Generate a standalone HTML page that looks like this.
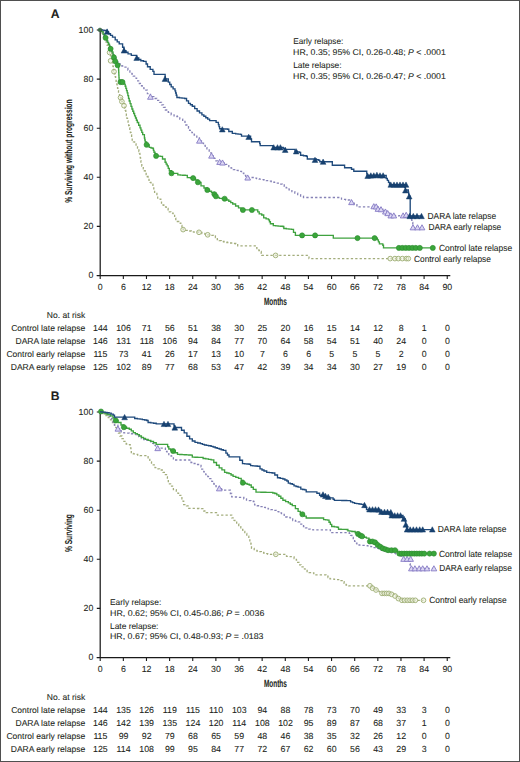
<!DOCTYPE html>
<html><head><meta charset="utf-8"><style>
html,body{margin:0;padding:0;background:#fff;}
body{width:520px;height:762px;overflow:hidden;}
svg{display:block;}
#w{width:520px;height:762px;}
text{font-family:"Liberation Sans", sans-serif;fill:#231f20;stroke:#231f20;stroke-width:0.08px;text-rendering:geometricPrecision;}
</style></head><body>
<div id="w"><svg width="520" height="762" viewBox="0 0 520 762">
<rect x="0.5" y="0.5" width="519" height="761" fill="#fff" stroke="#4f4f4f" stroke-width="1"/>
<path d="M100.2 30V276.1 M96.8 275.5H450.3" stroke="#1a1a1a" stroke-width="1.25" fill="none"/>
<path d="M96.8 275.5H100.2M96.8 226.4H100.2M96.8 177.3H100.2M96.8 128.2H100.2M96.8 79.1H100.2M96.8 30H100.2M100.2 275.5V278.9M123.34 275.5V278.9M146.47 275.5V278.9M169.61 275.5V278.9M192.74 275.5V278.9M215.88 275.5V278.9M239.02 275.5V278.9M262.15 275.5V278.9M285.29 275.5V278.9M308.42 275.5V278.9M331.56 275.5V278.9M354.7 275.5V278.9M377.83 275.5V278.9M400.97 275.5V278.9M424.1 275.5V278.9M447.24 275.5V278.9" stroke="#1a1a1a" stroke-width="1.1" fill="none"/>
<text x="93.3" y="278.4" font-size="8.8" text-anchor="end">0</text>
<text x="93.3" y="229.3" font-size="8.8" text-anchor="end">20</text>
<text x="93.3" y="180.2" font-size="8.8" text-anchor="end">40</text>
<text x="93.3" y="131.1" font-size="8.8" text-anchor="end">60</text>
<text x="93.3" y="82" font-size="8.8" text-anchor="end">80</text>
<text x="93.3" y="32.9" font-size="8.8" text-anchor="end">100</text>
<text x="100.3" y="289.9" font-size="8.8" text-anchor="middle">0</text>
<text x="123.44" y="289.9" font-size="8.8" text-anchor="middle">6</text>
<text x="146.57" y="289.9" font-size="8.8" text-anchor="middle">12</text>
<text x="169.71" y="289.9" font-size="8.8" text-anchor="middle">18</text>
<text x="192.84" y="289.9" font-size="8.8" text-anchor="middle">24</text>
<text x="215.98" y="289.9" font-size="8.8" text-anchor="middle">30</text>
<text x="239.12" y="289.9" font-size="8.8" text-anchor="middle">36</text>
<text x="262.25" y="289.9" font-size="8.8" text-anchor="middle">42</text>
<text x="285.39" y="289.9" font-size="8.8" text-anchor="middle">48</text>
<text x="308.52" y="289.9" font-size="8.8" text-anchor="middle">54</text>
<text x="331.66" y="289.9" font-size="8.8" text-anchor="middle">60</text>
<text x="354.8" y="289.9" font-size="8.8" text-anchor="middle">66</text>
<text x="377.93" y="289.9" font-size="8.8" text-anchor="middle">72</text>
<text x="401.07" y="289.9" font-size="8.8" text-anchor="middle">78</text>
<text x="424.2" y="289.9" font-size="8.8" text-anchor="middle">84</text>
<text x="447.34" y="289.9" font-size="8.8" text-anchor="middle">90</text>
<text x="275.4" y="305" font-size="10.6" text-anchor="middle" textLength="23" lengthAdjust="spacingAndGlyphs" font-weight="bold">Months</text>
<text transform="translate(72.2 151.1) rotate(-90)" font-size="10" font-weight="bold" text-anchor="middle" textLength="103.4" lengthAdjust="spacingAndGlyphs">% Surviving without progression</text>
<text x="50.7" y="17.8" font-size="12.2" font-weight="bold">A</text>
<text x="293.2" y="44.4" font-size="8.4" textLength="50.1" lengthAdjust="spacingAndGlyphs">Early relapse:</text>
<text x="293.1" y="54.6" font-size="8.4" textLength="152.7" lengthAdjust="spacingAndGlyphs">HR, 0.35; 95% CI, 0.26-0.48; <tspan font-style="italic">P</tspan> &lt; .0001</text>
<text x="293.2" y="67.9" font-size="8.4">Late relapse:</text>
<text x="293.1" y="78.5" font-size="8.4" textLength="152.7" lengthAdjust="spacingAndGlyphs">HR, 0.35; 95% CI, 0.26-0.47; <tspan font-style="italic">P</tspan> &lt; .0001</text>
<path d="M100 29.8H102V33H103V35H104V37H105V39.5H106V42H107V45H108V48H108.9V50.5H109.8V53H110.5V55.8H111.2V58.6H111.85V61.3H112.5V64H112.93V66.33H113.37V68.67H113.8V71H114.45V73.85H115.1V76.7H115.6V79.08H116.1V81.45H116.6V83.83H117.1V86.2H117.57V88.43H118.03V90.67H118.5V92.9H119.5V95.25H120.5V97.6H121.15V99.6H121.8V101.6H123.15V103.65H124.5V105.7H124.85V108.05H125.2V110.4H125.78V113.05H126.35V115.7H126.92V118.35H127.5V121H128.07V123.25H128.65V125.5H129.23V127.75H129.8V130H130.4V132.5H131V135H131.6V137.5H132.2V140H133.4V141.9H134.6V143.8H136.05V146H137.5V148.2H138.9V151.5H139.4V153.45H139.9V155.4H140.23V157.97H140.57V160.53H140.9V163.1H141.8V166H143.3V168.8H144.25V170.75H145.2V172.7H146.15V174.6H147.1V176.5H148.05V178.45H149V180.4H150V182.3H151V184.2H152.9V187.1H153.8V190H154.6V193.5H156.9V196.2H157.7V199.2H160.8V201.5H161.5V205H163.8V206.9H166.2V208.5H168.1V211.9H170.8V213.1H173.1V215.4H174.6V218.1H175.8V221.5H178.8V223.1H180.8V225.4H181.95V227.5H183.1V229.6H185.8V230.3H188.5V231H191.3V231.9H193.87V232.03H196.43V232.17H199V232.3H201.9V233.5H204.8V234.15H207.7V234.8H210.6V235.3H213.5V235.8H215.4V237.7H217.3V239.6H219.25V240.55H221.2V241.5H224.05V242H226.9V242.5H229.8V243H232.7V243.5H235.8V243.8H237.7V245.8H255H255.95V247.7H256.9V249.6H258.85V250.55H260.8V251.5H261.25V253.45H261.7V255.4H308.2H309V258.6H408.5" stroke="#a3ad7c" stroke-width="1.3" fill="none" stroke-dasharray="2.3 2.1"/>
<circle cx="109.6" cy="52.5" r="2.35" fill="rgba(236,241,220,0.55)" stroke="#a0b078" stroke-width="0.95"/>
<circle cx="110.6" cy="60.8" r="2.35" fill="rgba(236,241,220,0.55)" stroke="#a0b078" stroke-width="0.95"/>
<circle cx="114" cy="71.6" r="2.35" fill="rgba(236,241,220,0.55)" stroke="#a0b078" stroke-width="0.95"/>
<circle cx="120.5" cy="97.6" r="2.35" fill="rgba(236,241,220,0.55)" stroke="#a0b078" stroke-width="0.95"/>
<circle cx="121.9" cy="101.6" r="2.35" fill="rgba(236,241,220,0.55)" stroke="#a0b078" stroke-width="0.95"/>
<circle cx="124" cy="105.7" r="2.35" fill="rgba(236,241,220,0.55)" stroke="#a0b078" stroke-width="0.95"/>
<circle cx="183.1" cy="229.6" r="2.35" fill="rgba(236,241,220,0.55)" stroke="#a0b078" stroke-width="0.95"/>
<circle cx="199" cy="232.3" r="2.35" fill="rgba(236,241,220,0.55)" stroke="#a0b078" stroke-width="0.95"/>
<circle cx="207.7" cy="234.8" r="2.35" fill="rgba(236,241,220,0.55)" stroke="#a0b078" stroke-width="0.95"/>
<circle cx="275.6" cy="255.4" r="2.35" fill="rgba(236,241,220,0.55)" stroke="#a0b078" stroke-width="0.95"/>
<circle cx="390.2" cy="258.6" r="2.35" fill="rgba(236,241,220,0.55)" stroke="#a0b078" stroke-width="0.95"/>
<circle cx="394.9" cy="258.6" r="2.35" fill="rgba(236,241,220,0.55)" stroke="#a0b078" stroke-width="0.95"/>
<circle cx="398.3" cy="258.6" r="2.35" fill="rgba(236,241,220,0.55)" stroke="#a0b078" stroke-width="0.95"/>
<circle cx="402.3" cy="258.6" r="2.35" fill="rgba(236,241,220,0.55)" stroke="#a0b078" stroke-width="0.95"/>
<circle cx="406.3" cy="258.6" r="2.35" fill="rgba(236,241,220,0.55)" stroke="#a0b078" stroke-width="0.95"/>
<circle cx="408.3" cy="258.6" r="2.35" fill="rgba(236,241,220,0.55)" stroke="#a0b078" stroke-width="0.95"/>
<path d="M100 29.8H102V32H103V34H104V36H105.25V38.5H106.5V41H107.75V43.5H109V46H110.25V48.5H111.5V51H112.75V53.5H114V56H115V58H116V60H117.3V62H118.6V64H121.9V66H123.95V67.05H126V68.1H127.9V70H129.9V72H131.9V74H133.25V76.05H134.6V78.1H136.6V80.8H138.6V83.5H140.4V85.73H142.2V87.97H144V90.2H147.4V93.6H150.5V96.6H153.8V98.5H156.7V100.4H159.6V102.3H161.53V104.87H163.47V107.43H165.4V110H168.3V112.4H171.2V114.8H174.05V115.75H176.9V116.7H179.8V119.1H182.7V121.5H185V125H188.5V128.3H189.6V130.4H191.9V132.7H194.2V135H196.8V137.9H199.4V140.8H201.45V143.1H203.5V145.4H205.2V147.7H206.9V150H209.2V152.9H211.5V155.8H213.25V158.35H215V160.9H217.3V161.5H219.6V162.1H222.5V162.7H225.4V164.4H228.8V166.7H231.1V168.15H233.4V169.6H235.75V170.45H238.1V171.3H241.5V173.1H243.8V175.4H245.75V176.45H247.7V177.5H251.5H254.07V178.07H256.63V178.63H259.2V179.2H261.6V179.7H264V180.2H266.4V180.7H268.8V181.2H271.37V181.83H273.93V182.47H276.5V183.1H279.4V184.05H282.3V185H284.25V186.45H286.2V187.9H289.05V189.8H291.9V191.7H294.8V193.15H297.7V194.6H300.6V196.05H303.5V197.5H340H341.5V199.2H343.57V199.47H345.63V199.73H347.7V200H349.6V201.15H351.5V202.3H354.2V204.6H356.9V206.9H372H376.5H378.5V208.8H381V209.2H382.8V210.35H384.6V211.5H386.9V213.1H390V215H392.3V215.27H394.6V215.53H396.9V215.8H399.17V215.7H401.45V215.6H403.73V215.5H406V215.4H408V215.7H410V216H410.87V218.17H411.73V220.33H412.6V222.5H412.8V224.9H413V227.3H422" stroke="#8682b6" stroke-width="1.3" fill="none" stroke-dasharray="2.3 2.1"/>
<path d="M150.4 94.15L147.55 99.25L153.25 99.25Z" fill="#dcd7f3" stroke="#8479c4" stroke-width="0.9"/>
<path d="M199.4 138.05L196.55 143.15L202.25 143.15Z" fill="#dcd7f3" stroke="#8479c4" stroke-width="0.9"/>
<path d="M211.5 153.05L208.65 158.15L214.35 158.15Z" fill="#dcd7f3" stroke="#8479c4" stroke-width="0.9"/>
<path d="M219.6 159.35L216.75 164.45L222.45 164.45Z" fill="#dcd7f3" stroke="#8479c4" stroke-width="0.9"/>
<path d="M222.5 159.95L219.65 165.05L225.35 165.05Z" fill="#dcd7f3" stroke="#8479c4" stroke-width="0.9"/>
<path d="M247.7 174.95L244.85 180.05L250.55 180.05Z" fill="#dcd7f3" stroke="#8479c4" stroke-width="0.9"/>
<path d="M351.5 199.55L348.65 204.65L354.35 204.65Z" fill="#dcd7f3" stroke="#8479c4" stroke-width="0.9"/>
<path d="M373.8 203.65L370.95 208.75L376.65 208.75Z" fill="#dcd7f3" stroke="#8479c4" stroke-width="0.9"/>
<path d="M376.2 203.85L373.35 208.95L379.05 208.95Z" fill="#dcd7f3" stroke="#8479c4" stroke-width="0.9"/>
<path d="M378 206.25L375.15 211.35L380.85 211.35Z" fill="#dcd7f3" stroke="#8479c4" stroke-width="0.9"/>
<path d="M381 206.65L378.15 211.75L383.85 211.75Z" fill="#dcd7f3" stroke="#8479c4" stroke-width="0.9"/>
<path d="M385.4 208.95L382.55 214.05L388.25 214.05Z" fill="#dcd7f3" stroke="#8479c4" stroke-width="0.9"/>
<path d="M387.7 210.55L384.85 215.65L390.55 215.65Z" fill="#dcd7f3" stroke="#8479c4" stroke-width="0.9"/>
<path d="M390.8 212.85L387.95 217.95L393.65 217.95Z" fill="#dcd7f3" stroke="#8479c4" stroke-width="0.9"/>
<path d="M393.8 212.85L390.95 217.95L396.65 217.95Z" fill="#dcd7f3" stroke="#8479c4" stroke-width="0.9"/>
<path d="M403.1 212.85L400.25 217.95L405.95 217.95Z" fill="#dcd7f3" stroke="#8479c4" stroke-width="0.9"/>
<path d="M406.2 212.25L403.35 217.35L409.05 217.35Z" fill="#dcd7f3" stroke="#8479c4" stroke-width="0.9"/>
<path d="M413 224.75L410.15 229.85L415.85 229.85Z" fill="#dcd7f3" stroke="#8479c4" stroke-width="0.9"/>
<path d="M417.5 224.75L414.65 229.85L420.35 229.85Z" fill="#dcd7f3" stroke="#8479c4" stroke-width="0.9"/>
<path d="M422 224.75L419.15 229.85L424.85 229.85Z" fill="#dcd7f3" stroke="#8479c4" stroke-width="0.9"/>
<path d="M100 29.8H101.5V31.5H103.1V34.4H104.9V37.5H106.5V40.5H107.5V42.5H108.5V44.5H109.55V46.65H110.6V48.8H112V52H112.95V54.7H113.9V57.4H114.55V59.35H115.2V61.3H117V64H118.3V66.7H118.6V70H118.72V72.53H118.85V75.05H118.97V77.57H119.1V80.1H122.5V82.1H123.85V84.15H125.2V86.2H125.87V88.43H126.53V90.67H127.2V92.9H127.87V95.6H128.53V98.3H129.2V101H130.1V103.67H131V106.33H131.9V109H132.8V111.27H133.7V113.53H134.6V115.8H135.5V118.03H136.4V120.27H137.3V122.5H138.65V125.2H140V127.9H140.9V130.13H141.8V132.37H142.7V134.6H144.4V138H144.8V140H145.2V142H146.6V144.8H149.2V147.4H151.05V147.95H152.9V148.5H153.45V150.35H154V152.2H155.05V154.05H156.1V155.9H158.2V156.15H160.3V156.4H162.5V159H165.1V162.2H166.15V164.05H167.2V165.9H168.25V168.3H169.3V170.7H171.5V173.3H175.7H177.8V174.9H180.27V175.07H182.73V175.23H185.2V175.4H187.3V177.6H190.2V177.85H193.1V178.1H195.5V180H197.9V182.3H201V185.8H204V188H207.3V190H209.4V191.25H211.5V192.5H214.4V193.8H215.4V196.3H217.3V197.3H219.2V198.3H221.9V198.5H224.6V198.7H226.7V199.95H228.8V201.2H230.75V202.6H232.7V204H235.6V205.95H238.5V207.9H241V209.9H256.3H257.75V211.85H259.2V213.8H261.7V215H263.7V217.9H266.1V218.85H268.5V219.8H269.45V221.75H270.4V223.7H273.3V225.6H275.7V225.82H278.1V226.05H280.5V226.28H282.9V226.5H283.8V228.5H286.37V228.8H288.93V229.1H291.5V229.4H293.5V232.3H295.4V235.4H332.4H333.3V238.1H374.6H377.4V239.8H378.4V241.8H379.4V243.8H382.8V245.2H383.5V247.9H432.8" stroke="#3fa23f" stroke-width="1.35" fill="none"/>
<circle cx="105.6" cy="37.8" r="2.55" fill="#3aa63a" stroke="#2e8a30" stroke-width="0.6"/>
<circle cx="110.6" cy="48.8" r="2.55" fill="#3aa63a" stroke="#2e8a30" stroke-width="0.6"/>
<circle cx="113.9" cy="57.4" r="2.55" fill="#3aa63a" stroke="#2e8a30" stroke-width="0.6"/>
<circle cx="115.3" cy="61.3" r="2.55" fill="#3aa63a" stroke="#2e8a30" stroke-width="0.6"/>
<circle cx="117.6" cy="65.2" r="2.55" fill="#3aa63a" stroke="#2e8a30" stroke-width="0.6"/>
<circle cx="120.5" cy="82.1" r="2.55" fill="#3aa63a" stroke="#2e8a30" stroke-width="0.6"/>
<circle cx="122.5" cy="82.1" r="2.55" fill="#3aa63a" stroke="#2e8a30" stroke-width="0.6"/>
<circle cx="146.6" cy="144.8" r="2.55" fill="#3aa63a" stroke="#2e8a30" stroke-width="0.6"/>
<circle cx="156.1" cy="155.9" r="2.55" fill="#3aa63a" stroke="#2e8a30" stroke-width="0.6"/>
<circle cx="171.5" cy="173.3" r="2.55" fill="#3aa63a" stroke="#2e8a30" stroke-width="0.6"/>
<circle cx="193.1" cy="178.1" r="2.55" fill="#3aa63a" stroke="#2e8a30" stroke-width="0.6"/>
<circle cx="197.9" cy="182.3" r="2.55" fill="#3aa63a" stroke="#2e8a30" stroke-width="0.6"/>
<circle cx="207.3" cy="190" r="2.55" fill="#3aa63a" stroke="#2e8a30" stroke-width="0.6"/>
<circle cx="214.4" cy="194.2" r="2.55" fill="#3aa63a" stroke="#2e8a30" stroke-width="0.6"/>
<circle cx="215.9" cy="196.3" r="2.55" fill="#3aa63a" stroke="#2e8a30" stroke-width="0.6"/>
<circle cx="224.6" cy="198.7" r="2.55" fill="#3aa63a" stroke="#2e8a30" stroke-width="0.6"/>
<circle cx="242.9" cy="210" r="2.55" fill="#3aa63a" stroke="#2e8a30" stroke-width="0.6"/>
<circle cx="251.9" cy="210" r="2.55" fill="#3aa63a" stroke="#2e8a30" stroke-width="0.6"/>
<circle cx="302.1" cy="235.4" r="2.55" fill="#3aa63a" stroke="#2e8a30" stroke-width="0.6"/>
<circle cx="315.1" cy="235.4" r="2.55" fill="#3aa63a" stroke="#2e8a30" stroke-width="0.6"/>
<circle cx="357.5" cy="238.1" r="2.55" fill="#3aa63a" stroke="#2e8a30" stroke-width="0.6"/>
<circle cx="374.6" cy="238.1" r="2.55" fill="#3aa63a" stroke="#2e8a30" stroke-width="0.6"/>
<circle cx="398.9" cy="247.9" r="2.55" fill="#3aa63a" stroke="#2e8a30" stroke-width="0.6"/>
<circle cx="402.3" cy="247.9" r="2.55" fill="#3aa63a" stroke="#2e8a30" stroke-width="0.6"/>
<circle cx="405.7" cy="247.9" r="2.55" fill="#3aa63a" stroke="#2e8a30" stroke-width="0.6"/>
<circle cx="409" cy="247.9" r="2.55" fill="#3aa63a" stroke="#2e8a30" stroke-width="0.6"/>
<circle cx="412.4" cy="247.9" r="2.55" fill="#3aa63a" stroke="#2e8a30" stroke-width="0.6"/>
<circle cx="415.8" cy="247.9" r="2.55" fill="#3aa63a" stroke="#2e8a30" stroke-width="0.6"/>
<circle cx="419.8" cy="247.9" r="2.55" fill="#3aa63a" stroke="#2e8a30" stroke-width="0.6"/>
<circle cx="432.8" cy="247.9" r="2.55" fill="#3aa63a" stroke="#2e8a30" stroke-width="0.6"/>
<path d="M100 29.8H102V30.15H104V30.5H107V31.7H108.5V33.7H110.5V35.4H112.5V37.1H115.2V39.8H117.2V41.8H119.2V43.8H122.6V47.2H124V50.6H126V52.25H128V53.9H131.3V55.3H134H136.7V58H138.75V59.35H140.8V60.7H143.5V61.3H146.1V64H147.5V66.7H150.2V69.4H152.9V71.4H154V74.4H165H165.15V76.6H165.3V78.8H168.3V82.1H169.75V84.5H171.2V86.9H173.1V88.85H175V90.8H175.63V93.03H176.27V95.27H176.9V97.5H179.47V97.83H182.03V98.17H184.6V98.5H186.55V100.9H188.5V103.3H190.4V104.75H192.3V106.2H194.7V108.6H197.1V111H199.5V112.9H201.9V114.8H203.85V116.25H205.8V117.7H207.7V119.15H209.6V120.6H212.7H216.1V122.3H218.4V124.6H219V126.65H219.6V128.7H222.3V128.87H225V129.03H227.7V129.2H228.8V131.5H232.3V133.3H235.7V133.8H238.05V134.1H240.4V134.4H241.5V136.1H247.7H250.6V138.8H251.5V141.7H259.2H259.7V143.65H260.2V145.6H271.7H273V147.3H282H283.3V148.5H285.2V149.4H293.8H295V151.3H297.3V151.8H299.6V152.3H300.6V155.2H303.45V155.7H306.3V156.2H307.3V159H314H316.4V159.7H318.8V160.4H319.8V161.7H330.8H332.3V165.2H343.8H344.6V167.7H350H351.5V169.2H353.8V171.2H366.5H366.75V173.3H367V175.4H384H386.2V178.5H387.35V180.4H388.5V182.3H389.5V184.6H404H404.7V187.3H405.4V190H408H408.33V192.07H408.67V194.13H409V196.2H410.2V216H421.5" stroke="#1f4a7c" stroke-width="1.35" fill="none"/>
<path d="M107.1 28.85L104.25 34.15L109.95 34.15Z" fill="#17406f" stroke="#17406f" stroke-width="0.5"/>
<path d="M124 47.75L121.15 53.05L126.85 53.05Z" fill="#17406f" stroke="#17406f" stroke-width="0.5"/>
<path d="M136.7 55.15L133.85 60.45L139.55 60.45Z" fill="#17406f" stroke="#17406f" stroke-width="0.5"/>
<path d="M165 76.15L162.15 81.45L167.85 81.45Z" fill="#17406f" stroke="#17406f" stroke-width="0.5"/>
<path d="M222.3 126.65L219.45 131.95L225.15 131.95Z" fill="#17406f" stroke="#17406f" stroke-width="0.5"/>
<path d="M248.7 134.15L245.85 139.45L251.55 139.45Z" fill="#17406f" stroke="#17406f" stroke-width="0.5"/>
<path d="M273.7 144.65L270.85 149.95L276.55 149.95Z" fill="#17406f" stroke="#17406f" stroke-width="0.5"/>
<path d="M277.5 144.65L274.65 149.95L280.35 149.95Z" fill="#17406f" stroke="#17406f" stroke-width="0.5"/>
<path d="M280.4 144.65L277.55 149.95L283.25 149.95Z" fill="#17406f" stroke="#17406f" stroke-width="0.5"/>
<path d="M285.2 147.15L282.35 152.45L288.05 152.45Z" fill="#17406f" stroke="#17406f" stroke-width="0.5"/>
<path d="M296.2 148.65L293.35 153.95L299.05 153.95Z" fill="#17406f" stroke="#17406f" stroke-width="0.5"/>
<path d="M315 157.15L312.15 162.45L317.85 162.45Z" fill="#17406f" stroke="#17406f" stroke-width="0.5"/>
<path d="M323.1 159.05L320.25 164.35L325.95 164.35Z" fill="#17406f" stroke="#17406f" stroke-width="0.5"/>
<path d="M367.7 173.15L364.85 178.45L370.55 178.45Z" fill="#17406f" stroke="#17406f" stroke-width="0.5"/>
<path d="M370.8 172.75L367.95 178.05L373.65 178.05Z" fill="#17406f" stroke="#17406f" stroke-width="0.5"/>
<path d="M373.8 172.75L370.95 178.05L376.65 178.05Z" fill="#17406f" stroke="#17406f" stroke-width="0.5"/>
<path d="M376.9 172.15L374.05 177.45L379.75 177.45Z" fill="#17406f" stroke="#17406f" stroke-width="0.5"/>
<path d="M380 172.75L377.15 178.05L382.85 178.05Z" fill="#17406f" stroke="#17406f" stroke-width="0.5"/>
<path d="M383.1 172.75L380.25 178.05L385.95 178.05Z" fill="#17406f" stroke="#17406f" stroke-width="0.5"/>
<path d="M390.8 181.95L387.95 187.25L393.65 187.25Z" fill="#17406f" stroke="#17406f" stroke-width="0.5"/>
<path d="M394 181.95L391.15 187.25L396.85 187.25Z" fill="#17406f" stroke="#17406f" stroke-width="0.5"/>
<path d="M397 181.95L394.15 187.25L399.85 187.25Z" fill="#17406f" stroke="#17406f" stroke-width="0.5"/>
<path d="M400 181.95L397.15 187.25L402.85 187.25Z" fill="#17406f" stroke="#17406f" stroke-width="0.5"/>
<path d="M403 181.95L400.15 187.25L405.85 187.25Z" fill="#17406f" stroke="#17406f" stroke-width="0.5"/>
<path d="M406 181.95L403.15 187.25L408.85 187.25Z" fill="#17406f" stroke="#17406f" stroke-width="0.5"/>
<path d="M405.4 187.65L402.55 192.95L408.25 192.95Z" fill="#17406f" stroke="#17406f" stroke-width="0.5"/>
<path d="M409.2 193.65L406.35 198.95L412.05 198.95Z" fill="#17406f" stroke="#17406f" stroke-width="0.5"/>
<path d="M409.6 213.35L406.75 218.65L412.45 218.65Z" fill="#17406f" stroke="#17406f" stroke-width="0.5"/>
<path d="M413.3 213.35L410.45 218.65L416.15 218.65Z" fill="#17406f" stroke="#17406f" stroke-width="0.5"/>
<path d="M417 213.35L414.15 218.65L419.85 218.65Z" fill="#17406f" stroke="#17406f" stroke-width="0.5"/>
<path d="M421.5 213.35L418.65 218.65L424.35 218.65Z" fill="#17406f" stroke="#17406f" stroke-width="0.5"/>
<circle cx="100" cy="29.9" r="1.9" fill="#3c6e4a" stroke="#2f5a3c" stroke-width="0.5"/>
<text x="427.5" y="218.7" font-size="8.8" textLength="68.6" lengthAdjust="spacingAndGlyphs">DARA late relapse</text>
<text x="428.5" y="229.9" font-size="8.8" textLength="72.7" lengthAdjust="spacingAndGlyphs">DARA early relapse</text>
<text x="438.9" y="250.9" font-size="8.8" textLength="73.3" lengthAdjust="spacingAndGlyphs">Control late relapse</text>
<text x="414" y="261.8" font-size="8.8" textLength="76.9" lengthAdjust="spacingAndGlyphs">Control early relapse</text>
<text x="85.3" y="318" font-size="8.55" text-anchor="end">No. at risk</text>
<text x="85.3" y="331.1" font-size="8.55" text-anchor="end">Control late relapse</text>
<text x="100.4" y="331.1" font-size="8.8" text-anchor="middle">144</text>
<text x="123.54" y="331.1" font-size="8.8" text-anchor="middle">106</text>
<text x="146.67" y="331.1" font-size="8.8" text-anchor="middle">71</text>
<text x="169.81" y="331.1" font-size="8.8" text-anchor="middle">56</text>
<text x="192.94" y="331.1" font-size="8.8" text-anchor="middle">51</text>
<text x="216.08" y="331.1" font-size="8.8" text-anchor="middle">38</text>
<text x="239.22" y="331.1" font-size="8.8" text-anchor="middle">30</text>
<text x="262.35" y="331.1" font-size="8.8" text-anchor="middle">25</text>
<text x="285.49" y="331.1" font-size="8.8" text-anchor="middle">20</text>
<text x="308.62" y="331.1" font-size="8.8" text-anchor="middle">16</text>
<text x="331.76" y="331.1" font-size="8.8" text-anchor="middle">15</text>
<text x="354.9" y="331.1" font-size="8.8" text-anchor="middle">14</text>
<text x="378.03" y="331.1" font-size="8.8" text-anchor="middle">12</text>
<text x="401.17" y="331.1" font-size="8.8" text-anchor="middle">8</text>
<text x="424.3" y="331.1" font-size="8.8" text-anchor="middle">1</text>
<text x="447.44" y="331.1" font-size="8.8" text-anchor="middle">0</text>
<text x="85.3" y="344.2" font-size="8.55" text-anchor="end">DARA late relapse</text>
<text x="100.4" y="344.2" font-size="8.8" text-anchor="middle">146</text>
<text x="123.54" y="344.2" font-size="8.8" text-anchor="middle">131</text>
<text x="146.67" y="344.2" font-size="8.8" text-anchor="middle">118</text>
<text x="169.81" y="344.2" font-size="8.8" text-anchor="middle">106</text>
<text x="192.94" y="344.2" font-size="8.8" text-anchor="middle">94</text>
<text x="216.08" y="344.2" font-size="8.8" text-anchor="middle">84</text>
<text x="239.22" y="344.2" font-size="8.8" text-anchor="middle">77</text>
<text x="262.35" y="344.2" font-size="8.8" text-anchor="middle">70</text>
<text x="285.49" y="344.2" font-size="8.8" text-anchor="middle">64</text>
<text x="308.62" y="344.2" font-size="8.8" text-anchor="middle">58</text>
<text x="331.76" y="344.2" font-size="8.8" text-anchor="middle">54</text>
<text x="354.9" y="344.2" font-size="8.8" text-anchor="middle">51</text>
<text x="378.03" y="344.2" font-size="8.8" text-anchor="middle">40</text>
<text x="401.17" y="344.2" font-size="8.8" text-anchor="middle">24</text>
<text x="424.3" y="344.2" font-size="8.8" text-anchor="middle">0</text>
<text x="447.44" y="344.2" font-size="8.8" text-anchor="middle">0</text>
<text x="85.3" y="357" font-size="8.55" text-anchor="end">Control early relapse</text>
<text x="100.4" y="357" font-size="8.8" text-anchor="middle">115</text>
<text x="123.54" y="357" font-size="8.8" text-anchor="middle">73</text>
<text x="146.67" y="357" font-size="8.8" text-anchor="middle">41</text>
<text x="169.81" y="357" font-size="8.8" text-anchor="middle">26</text>
<text x="192.94" y="357" font-size="8.8" text-anchor="middle">17</text>
<text x="216.08" y="357" font-size="8.8" text-anchor="middle">13</text>
<text x="239.22" y="357" font-size="8.8" text-anchor="middle">10</text>
<text x="262.35" y="357" font-size="8.8" text-anchor="middle">7</text>
<text x="285.49" y="357" font-size="8.8" text-anchor="middle">6</text>
<text x="308.62" y="357" font-size="8.8" text-anchor="middle">6</text>
<text x="331.76" y="357" font-size="8.8" text-anchor="middle">5</text>
<text x="354.9" y="357" font-size="8.8" text-anchor="middle">5</text>
<text x="378.03" y="357" font-size="8.8" text-anchor="middle">5</text>
<text x="401.17" y="357" font-size="8.8" text-anchor="middle">2</text>
<text x="424.3" y="357" font-size="8.8" text-anchor="middle">0</text>
<text x="447.44" y="357" font-size="8.8" text-anchor="middle">0</text>
<text x="85.3" y="370.1" font-size="8.55" text-anchor="end">DARA early relapse</text>
<text x="100.4" y="370.1" font-size="8.8" text-anchor="middle">125</text>
<text x="123.54" y="370.1" font-size="8.8" text-anchor="middle">102</text>
<text x="146.67" y="370.1" font-size="8.8" text-anchor="middle">89</text>
<text x="169.81" y="370.1" font-size="8.8" text-anchor="middle">77</text>
<text x="192.94" y="370.1" font-size="8.8" text-anchor="middle">68</text>
<text x="216.08" y="370.1" font-size="8.8" text-anchor="middle">53</text>
<text x="239.22" y="370.1" font-size="8.8" text-anchor="middle">47</text>
<text x="262.35" y="370.1" font-size="8.8" text-anchor="middle">42</text>
<text x="285.49" y="370.1" font-size="8.8" text-anchor="middle">39</text>
<text x="308.62" y="370.1" font-size="8.8" text-anchor="middle">34</text>
<text x="331.76" y="370.1" font-size="8.8" text-anchor="middle">34</text>
<text x="354.9" y="370.1" font-size="8.8" text-anchor="middle">30</text>
<text x="378.03" y="370.1" font-size="8.8" text-anchor="middle">27</text>
<text x="401.17" y="370.1" font-size="8.8" text-anchor="middle">19</text>
<text x="424.3" y="370.1" font-size="8.8" text-anchor="middle">0</text>
<text x="447.44" y="370.1" font-size="8.8" text-anchor="middle">0</text>
<path d="M100.2 412V658.1 M96.8 657.5H450.3" stroke="#1a1a1a" stroke-width="1.25" fill="none"/>
<path d="M96.8 657.5H100.2M96.8 608.4H100.2M96.8 559.3H100.2M96.8 510.2H100.2M96.8 461.1H100.2M96.8 412H100.2M100.2 657.5V660.9M123.34 657.5V660.9M146.47 657.5V660.9M169.61 657.5V660.9M192.74 657.5V660.9M215.88 657.5V660.9M239.02 657.5V660.9M262.15 657.5V660.9M285.29 657.5V660.9M308.42 657.5V660.9M331.56 657.5V660.9M354.7 657.5V660.9M377.83 657.5V660.9M400.97 657.5V660.9M424.1 657.5V660.9M447.24 657.5V660.9" stroke="#1a1a1a" stroke-width="1.1" fill="none"/>
<text x="93.3" y="660.4" font-size="8.8" text-anchor="end">0</text>
<text x="93.3" y="611.3" font-size="8.8" text-anchor="end">20</text>
<text x="93.3" y="562.2" font-size="8.8" text-anchor="end">40</text>
<text x="93.3" y="513.1" font-size="8.8" text-anchor="end">60</text>
<text x="93.3" y="464" font-size="8.8" text-anchor="end">80</text>
<text x="93.3" y="414.9" font-size="8.8" text-anchor="end">100</text>
<text x="100.3" y="671.9" font-size="8.8" text-anchor="middle">0</text>
<text x="123.44" y="671.9" font-size="8.8" text-anchor="middle">6</text>
<text x="146.57" y="671.9" font-size="8.8" text-anchor="middle">12</text>
<text x="169.71" y="671.9" font-size="8.8" text-anchor="middle">18</text>
<text x="192.84" y="671.9" font-size="8.8" text-anchor="middle">24</text>
<text x="215.98" y="671.9" font-size="8.8" text-anchor="middle">30</text>
<text x="239.12" y="671.9" font-size="8.8" text-anchor="middle">36</text>
<text x="262.25" y="671.9" font-size="8.8" text-anchor="middle">42</text>
<text x="285.39" y="671.9" font-size="8.8" text-anchor="middle">48</text>
<text x="308.52" y="671.9" font-size="8.8" text-anchor="middle">54</text>
<text x="331.66" y="671.9" font-size="8.8" text-anchor="middle">60</text>
<text x="354.8" y="671.9" font-size="8.8" text-anchor="middle">66</text>
<text x="377.93" y="671.9" font-size="8.8" text-anchor="middle">72</text>
<text x="401.07" y="671.9" font-size="8.8" text-anchor="middle">78</text>
<text x="424.2" y="671.9" font-size="8.8" text-anchor="middle">84</text>
<text x="447.34" y="671.9" font-size="8.8" text-anchor="middle">90</text>
<text x="275.4" y="687" font-size="10.6" text-anchor="middle" textLength="23" lengthAdjust="spacingAndGlyphs" font-weight="bold">Months</text>
<text transform="translate(72.2 533.1) rotate(-90)" font-size="10" font-weight="bold" text-anchor="middle" textLength="37.8" lengthAdjust="spacingAndGlyphs">% Surviving</text>
<text x="50.7" y="399.6" font-size="12.2" font-weight="bold">B</text>
<text x="110" y="605" font-size="8.4">Early relapse:</text>
<text x="110" y="615.5" font-size="8.4" textLength="154.4" lengthAdjust="spacingAndGlyphs">HR, 0.62; 95% CI, 0.45-0.86; <tspan font-style="italic">P</tspan> = .0036</text>
<text x="110" y="628.8" font-size="8.4">Late relapse:</text>
<text x="110" y="638.8" font-size="8.4" textLength="153.5" lengthAdjust="spacingAndGlyphs">HR, 0.67; 95% CI, 0.48-0.93; <tspan font-style="italic">P</tspan> = .0183</text>
<path d="M100 411.8H103V413.5H106V415.5H108.25V417.65H110.5V419.8H112.5V422.5H114.5V425.2H115.75V427.6H117V430H118.45V433H119.9V436H121.9V438.65H123.9V441.3H126.2V444H128.2V444.6H130.2V445.2H130.57V447.9H130.93V450.6H131.3V453.3H133.35V453.85H135.4V454.4H137.7V455H140V455.6H146.9H148.1V458.5H149.8V461.9H151.5V464.8H155V467.7H157.3V468.85H159.6V470H163.1V472.3H165.4V474.6H166.5V476.9H167.4V479.2H168.3V481.5H169.45V483.8H170.6V486.1H173.4V489.6H176.3V493.1H178.55V495.4H180.8V497.7H181.9V501.1H183.7V504.6H186.5V505.8H188.8V508.3H191.34V508.36H193.88V508.42H196.42V508.48H198.96V508.54H201.5V508.6H203.8V511H206.1V512.7H214.2H216.5V515.1H230.4H231.75V517.8H233.1V520.4H234.9V522.2H236.7V524H238.75V526.7H240.8V529.4H242.8V531.45H244.8V533.5H246.8V536.15H248.8V538.8H249.85V541.5H250.9V544.2H251.2V546.25H251.5V548.3H254.2V549.65H256.9V551H259.13V551.67H261.37V552.33H263.6V553H265.65V553.65H267.7V554.3H283.8H286.5V556.3H289.2V556.65H291.9V557H294.1V558.55H296.3V560.1H297.65V562.45H299V564.8H301.05V566.8H303.1V568.8H305.1V570.5H307.1V572.2H309.15V572.55H311.2V572.9H313.8V574.9H323.3H326V576.2H328V577.55H330V578.9H332.23V579.13H334.47V579.37H336.7V579.6H339.4V580.6H342.1V581.6H344.1V583.3H346.1V585H348.8V585.8H369.9H372.5V588.2H376V590H379V591.7H382V593.4H388.9H391.5V594.3H395V596H398.4V598.6H401.9V600.3H423.5" stroke="#a3ad7c" stroke-width="1.3" fill="none" stroke-dasharray="2.3 2.1"/>
<circle cx="275.8" cy="554.3" r="2.35" fill="rgba(236,241,220,0.55)" stroke="#a0b078" stroke-width="0.95"/>
<circle cx="369.9" cy="585.8" r="2.35" fill="rgba(236,241,220,0.55)" stroke="#a0b078" stroke-width="0.95"/>
<circle cx="372.5" cy="588.2" r="2.35" fill="rgba(236,241,220,0.55)" stroke="#a0b078" stroke-width="0.95"/>
<circle cx="376" cy="590" r="2.35" fill="rgba(236,241,220,0.55)" stroke="#a0b078" stroke-width="0.95"/>
<circle cx="382" cy="593.4" r="2.35" fill="rgba(236,241,220,0.55)" stroke="#a0b078" stroke-width="0.95"/>
<circle cx="384.3" cy="593.4" r="2.35" fill="rgba(236,241,220,0.55)" stroke="#a0b078" stroke-width="0.95"/>
<circle cx="386.6" cy="593.4" r="2.35" fill="rgba(236,241,220,0.55)" stroke="#a0b078" stroke-width="0.95"/>
<circle cx="388.9" cy="593.4" r="2.35" fill="rgba(236,241,220,0.55)" stroke="#a0b078" stroke-width="0.95"/>
<circle cx="391.5" cy="594.3" r="2.35" fill="rgba(236,241,220,0.55)" stroke="#a0b078" stroke-width="0.95"/>
<circle cx="395" cy="596" r="2.35" fill="rgba(236,241,220,0.55)" stroke="#a0b078" stroke-width="0.95"/>
<circle cx="398.4" cy="598.6" r="2.35" fill="rgba(236,241,220,0.55)" stroke="#a0b078" stroke-width="0.95"/>
<circle cx="401.9" cy="600.3" r="2.35" fill="rgba(236,241,220,0.55)" stroke="#a0b078" stroke-width="0.95"/>
<circle cx="404.6" cy="600.3" r="2.35" fill="rgba(236,241,220,0.55)" stroke="#a0b078" stroke-width="0.95"/>
<circle cx="407.3" cy="600.3" r="2.35" fill="rgba(236,241,220,0.55)" stroke="#a0b078" stroke-width="0.95"/>
<circle cx="410" cy="600.3" r="2.35" fill="rgba(236,241,220,0.55)" stroke="#a0b078" stroke-width="0.95"/>
<circle cx="412.7" cy="600.3" r="2.35" fill="rgba(236,241,220,0.55)" stroke="#a0b078" stroke-width="0.95"/>
<circle cx="415.3" cy="600.3" r="2.35" fill="rgba(236,241,220,0.55)" stroke="#a0b078" stroke-width="0.95"/>
<circle cx="423.5" cy="600.3" r="2.35" fill="rgba(236,241,220,0.55)" stroke="#a0b078" stroke-width="0.95"/>
<path d="M100 411.8H102.5V412.8H105.1V414.4H107.8V416.45H110.5V418.5H111.83V420.73H113.17V422.97H114.5V425.2H117.9V428.6H119.55V430.6H121.2V432.6H123.9V432.83H126.6V433.07H129.3V433.3H131.53V433.73H133.77V434.17H136V434.6H138.7V436.6H141.4V438.6H143.63V439.5H145.87V440.4H148.1V441.3H150.8V443.35H153.5V445.4H155.55V446.75H157.6V448.1H163.1H165.4V451.5H167.1V453.55H168.8V455.6H171.1V456.15H173.4V456.7V460H188.3H191V462.5H193V463.5H195V464.5H200.4H201.05V466.85H201.7V469.2H203.75V471.9H205.8V474.6H207.8V476.6H209.8V478.6H211.8V481.3H213.8V484H216V486.5H219.2V488.7H221.3V489.45H223.4V490.2H228.1H230.4V493.5H231.7V496.8H234.07V496.98H236.45V497.15H238.82V497.32H241.2V497.5H243.85V498.85H246.5V500.2H248.77V500.63H251.03V501.07H253.3V501.5H254.6V504.9H257.3V505.75H260V506.6H262.7V507.45H265.4V508.3H268.1V508.97H270.8V509.63H273.5V510.3H276.17V511.63H278.83V512.97H281.5V514.3H284.2V517H287.1V517.4H290V517.8H292.7V520.5H295.4V521.15H298.1V521.8H300.8V524.15H303.5V526.5H305.5V527.85H307.5V529.2H310.2V529.55H312.9V529.9H327.7H330.4V532.6H346.5H349.2V533.3H350.55V535.3H351.9V537.3H353.25V539.3H354.6V541.3H355.75V543.15H356.9V545H359.5V545.2H362.1V545.4H364.7V545.6H367.3V545.8H370.8V546.7H373.4V547.55H376V548.4H378.55V549.3H381.1V550.2H383.33V550.78H385.55V551.35H387.77V551.92H390V552.5H392.8V553.17H395.6V553.83H398.4V554.5H400.45V556H402.5V557.5H403.6V558.8H409.5H409.75V561.4H410V564H410.25V566.15H410.5V568.3H433.9" stroke="#8682b6" stroke-width="1.3" fill="none" stroke-dasharray="2.3 2.1"/>
<path d="M117.9 426.05L115.05 431.15L120.75 431.15Z" fill="#dcd7f3" stroke="#8479c4" stroke-width="0.9"/>
<path d="M157.7 445.55L154.85 450.65L160.55 450.65Z" fill="#dcd7f3" stroke="#8479c4" stroke-width="0.9"/>
<path d="M219.3 485.75L216.45 490.85L222.15 490.85Z" fill="#dcd7f3" stroke="#8479c4" stroke-width="0.9"/>
<path d="M403.6 556.25L400.75 561.35L406.45 561.35Z" fill="#dcd7f3" stroke="#8479c4" stroke-width="0.9"/>
<path d="M407.1 556.25L404.25 561.35L409.95 561.35Z" fill="#dcd7f3" stroke="#8479c4" stroke-width="0.9"/>
<path d="M410.6 556.25L407.75 561.35L413.45 561.35Z" fill="#dcd7f3" stroke="#8479c4" stroke-width="0.9"/>
<path d="M411.4 565.75L408.55 570.85L414.25 570.85Z" fill="#dcd7f3" stroke="#8479c4" stroke-width="0.9"/>
<path d="M414.9 565.75L412.05 570.85L417.75 570.85Z" fill="#dcd7f3" stroke="#8479c4" stroke-width="0.9"/>
<path d="M419.2 565.75L416.35 570.85L422.05 570.85Z" fill="#dcd7f3" stroke="#8479c4" stroke-width="0.9"/>
<path d="M422.7 565.75L419.85 570.85L425.55 570.85Z" fill="#dcd7f3" stroke="#8479c4" stroke-width="0.9"/>
<path d="M427 565.75L424.15 570.85L429.85 570.85Z" fill="#dcd7f3" stroke="#8479c4" stroke-width="0.9"/>
<path d="M433.9 565.75L431.05 570.85L436.75 570.85Z" fill="#dcd7f3" stroke="#8479c4" stroke-width="0.9"/>
<path d="M100 411.8H102V412.3H105.1V413.7H107.8V414.75H110.5V415.8H113V418H115.8V420.5H118V422.5H121V425H123.9V427.2H126.6V428.2H129.3V429.2H131.3V430.9H133.3V432.6H135.35V433.6H137.4V434.6H139.4V435.95H141.4V437.3H143.45V438.3H145.5V439.3H148.15V440.3H150.8V441.3H153.5V442.7H156.2V444.4H166.5H167.65V446.7H168.8V449H170.8V450.4H173.1V451H175.3V452.7H177.5V454.4H179.75V454.52H182V454.63H184.25V454.75H186.5V454.87H188.75V454.98H191V455.1H192.3V457.1H195V457.2H197.7V457.3H200.4V457.4H203.1V458.5H205.77V458.93H208.43V459.37H211.1V459.8H213.8V462.5H216.5V465.2H219.2V467.9H221.9V469.9H224.6V472.4H226.8V473H229V473.6H231.05V474.95H233.1V476.3H235.8V477.35H238.5V478.4H241.2V480.4H243V482.7H245.07V483.47H247.13V484.23H249.2V485H251.25V487.2H253.3V489.4H256V492.1H258.47V492.15H260.93V492.2H263.4V492.25H265.87V492.3H268.33V492.35H270.8V492.4H272.8V492.95H274.8V493.5H276.8V494.85H278.8V496.2H280.85V498.2H282.9V500.2H285.6V501.55H288.3V502.9H290.3V504.25H292.3V505.6H295.4V508.6H298.1V511.3H300.25V512.8H302.4V514.3H304.3V516.15H306.2V518H322.3H323.6V519.6H325.65V519.85H327.7V520.1H329.03V522.23H330.37V524.37H331.7V526.5H334.4V526.85H337.1V527.2H338.5V529.2H341.17V529.3H343.83V529.4H346.5V529.5H347.9V530.8H349.9V531.15H351.9V531.5H355.2V532.9H358V533.9H360.4V535.5H362.1V536.3H364.25V537.2H366.4V538.1H369V540.7H372.5V541.5H375.1V542.4H377.7V545H380.3V546.7H382.9V548.4H385.5V549.3H388.1V550.2H396H397.6V553.6H433.9" stroke="#3fa23f" stroke-width="1.35" fill="none"/>
<circle cx="101" cy="411.5" r="2.55" fill="#3aa63a" stroke="#2e8a30" stroke-width="0.6"/>
<circle cx="115.8" cy="420.5" r="2.55" fill="#3aa63a" stroke="#2e8a30" stroke-width="0.6"/>
<circle cx="123.9" cy="427.2" r="2.55" fill="#3aa63a" stroke="#2e8a30" stroke-width="0.6"/>
<circle cx="173.1" cy="451" r="2.55" fill="#3aa63a" stroke="#2e8a30" stroke-width="0.6"/>
<circle cx="242.8" cy="482.7" r="2.55" fill="#3aa63a" stroke="#2e8a30" stroke-width="0.6"/>
<circle cx="302.4" cy="514.3" r="2.55" fill="#3aa63a" stroke="#2e8a30" stroke-width="0.6"/>
<circle cx="358" cy="533.9" r="2.55" fill="#3aa63a" stroke="#2e8a30" stroke-width="0.6"/>
<circle cx="360.4" cy="535.5" r="2.55" fill="#3aa63a" stroke="#2e8a30" stroke-width="0.6"/>
<circle cx="362.1" cy="536.3" r="2.55" fill="#3aa63a" stroke="#2e8a30" stroke-width="0.6"/>
<circle cx="369.9" cy="541.5" r="2.55" fill="#3aa63a" stroke="#2e8a30" stroke-width="0.6"/>
<circle cx="372.5" cy="541.5" r="2.55" fill="#3aa63a" stroke="#2e8a30" stroke-width="0.6"/>
<circle cx="375.1" cy="542.4" r="2.55" fill="#3aa63a" stroke="#2e8a30" stroke-width="0.6"/>
<circle cx="377.7" cy="545" r="2.55" fill="#3aa63a" stroke="#2e8a30" stroke-width="0.6"/>
<circle cx="380.3" cy="546.7" r="2.55" fill="#3aa63a" stroke="#2e8a30" stroke-width="0.6"/>
<circle cx="382.9" cy="548.4" r="2.55" fill="#3aa63a" stroke="#2e8a30" stroke-width="0.6"/>
<circle cx="385.5" cy="549.3" r="2.55" fill="#3aa63a" stroke="#2e8a30" stroke-width="0.6"/>
<circle cx="388.1" cy="550.2" r="2.55" fill="#3aa63a" stroke="#2e8a30" stroke-width="0.6"/>
<circle cx="391.5" cy="550.2" r="2.55" fill="#3aa63a" stroke="#2e8a30" stroke-width="0.6"/>
<circle cx="395" cy="550.2" r="2.55" fill="#3aa63a" stroke="#2e8a30" stroke-width="0.6"/>
<circle cx="399.3" cy="553.6" r="2.55" fill="#3aa63a" stroke="#2e8a30" stroke-width="0.6"/>
<circle cx="401.8" cy="553.6" r="2.55" fill="#3aa63a" stroke="#2e8a30" stroke-width="0.6"/>
<circle cx="404.3" cy="553.6" r="2.55" fill="#3aa63a" stroke="#2e8a30" stroke-width="0.6"/>
<circle cx="406.8" cy="553.6" r="2.55" fill="#3aa63a" stroke="#2e8a30" stroke-width="0.6"/>
<circle cx="409.3" cy="553.6" r="2.55" fill="#3aa63a" stroke="#2e8a30" stroke-width="0.6"/>
<circle cx="411.8" cy="553.6" r="2.55" fill="#3aa63a" stroke="#2e8a30" stroke-width="0.6"/>
<circle cx="414.3" cy="553.6" r="2.55" fill="#3aa63a" stroke="#2e8a30" stroke-width="0.6"/>
<circle cx="416.8" cy="553.6" r="2.55" fill="#3aa63a" stroke="#2e8a30" stroke-width="0.6"/>
<circle cx="419.3" cy="553.6" r="2.55" fill="#3aa63a" stroke="#2e8a30" stroke-width="0.6"/>
<circle cx="421.8" cy="553.6" r="2.55" fill="#3aa63a" stroke="#2e8a30" stroke-width="0.6"/>
<circle cx="424.3" cy="553.6" r="2.55" fill="#3aa63a" stroke="#2e8a30" stroke-width="0.6"/>
<circle cx="429.6" cy="553.6" r="2.55" fill="#3aa63a" stroke="#2e8a30" stroke-width="0.6"/>
<circle cx="433.9" cy="553.6" r="2.55" fill="#3aa63a" stroke="#2e8a30" stroke-width="0.6"/>
<path d="M100 411.8H102.5V412.05H105V412.3H107.05V412.7H109.1V413.1H111.15V414.1H113.2V415.1H114.5V417.1H133.3H134.7V418.5H137.4V418.8H140.1V419.1H142.33V419.57H144.57V420.03H146.8V420.5H148.1V422.5H150.8V422.85H153.5V423.2H156.2V423.9H173.5H174V425.7H174.5V427.5H178.8H181.5V430.2H184.2V432.9H186.9V436.2H189.6V438.9H192.3V441H195V442.3H197.7V443H200.4V443.6H202.4V444.3H204.4V445H206.45V445.35H208.5V445.7H211.1V446.3H213.15V447H215.2V447.7H217.2V448.35H219.2V449H221.25V449.7H223.3V450.4H225.9V453.1H227.45V454.95H229V456.8H237.1H239.8V460.2H242.5V463.6H244.73V463.8H246.97V464H249.2V464.2H250.6V465.6H252.83V465.8H255.07V466H257.3V466.2H260V468.9H262V469.95H264V471H266.7V472.3H269.4V472.65H272.1V473H274.8V475H277.5V477.7H280.2V478.35H282.9V479H284.9V480H286.9V481H288.3V483.1H290.3V483.75H292.3V484.4H294V485.8H296.05V486.45H298.1V487.1H300.8V489.1H302.8V489.45H304.8V489.8H306.2V491.8H315.6H316.9V493.2H319.6V495.2H322.3V495.85H325V496.5H327.35V497.2H329.7V497.9H333.1V499.2H334.4V500.3H336.87V500.35H339.33V500.4H341.8V500.45H344.27V500.5H346.73V500.55H349.2V500.6H350.6V501.9H352.6V502.6H354.6V503.3H356.8V503.63H359V503.97H361.2V504.3H363.8V505.2H365.15V507.35H366.5V509.5H379.5H380V512H389.5H390V515.5H402H403V518.9H405H405.3V521.85H405.6V524.8H406.4H406.65V527.2H406.9V529.6H432.2" stroke="#1f4a7c" stroke-width="1.35" fill="none"/>
<path d="M124.6 414.45L121.75 419.75L127.45 419.75Z" fill="#17406f" stroke="#17406f" stroke-width="0.5"/>
<path d="M164 421.25L161.15 426.55L166.85 426.55Z" fill="#17406f" stroke="#17406f" stroke-width="0.5"/>
<path d="M168 421.25L165.15 426.55L170.85 426.55Z" fill="#17406f" stroke="#17406f" stroke-width="0.5"/>
<path d="M174.8 424.85L171.95 430.15L177.65 430.15Z" fill="#17406f" stroke="#17406f" stroke-width="0.5"/>
<path d="M323 491.75L320.15 497.05L325.85 497.05Z" fill="#17406f" stroke="#17406f" stroke-width="0.5"/>
<path d="M325.4 493.15L322.55 498.45L328.25 498.45Z" fill="#17406f" stroke="#17406f" stroke-width="0.5"/>
<path d="M328.2 494.15L325.35 499.45L331.05 499.45Z" fill="#17406f" stroke="#17406f" stroke-width="0.5"/>
<path d="M364.5 502.35L361.65 507.65L367.35 507.65Z" fill="#17406f" stroke="#17406f" stroke-width="0.5"/>
<path d="M369.5 506.65L366.65 511.95L372.35 511.95Z" fill="#17406f" stroke="#17406f" stroke-width="0.5"/>
<path d="M372.5 506.65L369.65 511.95L375.35 511.95Z" fill="#17406f" stroke="#17406f" stroke-width="0.5"/>
<path d="M375.5 506.65L372.65 511.95L378.35 511.95Z" fill="#17406f" stroke="#17406f" stroke-width="0.5"/>
<path d="M378.5 506.85L375.65 512.15L381.35 512.15Z" fill="#17406f" stroke="#17406f" stroke-width="0.5"/>
<path d="M381.5 509.15L378.65 514.45L384.35 514.45Z" fill="#17406f" stroke="#17406f" stroke-width="0.5"/>
<path d="M384.5 509.15L381.65 514.45L387.35 514.45Z" fill="#17406f" stroke="#17406f" stroke-width="0.5"/>
<path d="M387.5 509.15L384.65 514.45L390.35 514.45Z" fill="#17406f" stroke="#17406f" stroke-width="0.5"/>
<path d="M390.8 509.45L387.95 514.75L393.65 514.75Z" fill="#17406f" stroke="#17406f" stroke-width="0.5"/>
<path d="M391.8 512.65L388.95 517.95L394.65 517.95Z" fill="#17406f" stroke="#17406f" stroke-width="0.5"/>
<path d="M394.7 512.65L391.85 517.95L397.55 517.95Z" fill="#17406f" stroke="#17406f" stroke-width="0.5"/>
<path d="M397.6 512.65L394.75 517.95L400.45 517.95Z" fill="#17406f" stroke="#17406f" stroke-width="0.5"/>
<path d="M400.5 512.65L397.65 517.95L403.35 517.95Z" fill="#17406f" stroke="#17406f" stroke-width="0.5"/>
<path d="M404 516.05L401.15 521.35L406.85 521.35Z" fill="#17406f" stroke="#17406f" stroke-width="0.5"/>
<path d="M405.8 521.95L402.95 527.25L408.65 527.25Z" fill="#17406f" stroke="#17406f" stroke-width="0.5"/>
<path d="M407.1 526.75L404.25 532.05L409.95 532.05Z" fill="#17406f" stroke="#17406f" stroke-width="0.5"/>
<path d="M410.2 526.75L407.35 532.05L413.05 532.05Z" fill="#17406f" stroke="#17406f" stroke-width="0.5"/>
<path d="M413.3 526.75L410.45 532.05L416.15 532.05Z" fill="#17406f" stroke="#17406f" stroke-width="0.5"/>
<path d="M416.5 526.75L413.65 532.05L419.35 532.05Z" fill="#17406f" stroke="#17406f" stroke-width="0.5"/>
<path d="M419.7 526.75L416.85 532.05L422.55 532.05Z" fill="#17406f" stroke="#17406f" stroke-width="0.5"/>
<path d="M422.7 526.75L419.85 532.05L425.55 532.05Z" fill="#17406f" stroke="#17406f" stroke-width="0.5"/>
<path d="M432.3 526.75L429.45 532.05L435.15 532.05Z" fill="#17406f" stroke="#17406f" stroke-width="0.5"/>
<text x="437.8" y="532.4" font-size="8.8" textLength="68.7" lengthAdjust="spacingAndGlyphs">DARA late relapse</text>
<text x="438.9" y="556.7" font-size="8.8" textLength="73.2" lengthAdjust="spacingAndGlyphs">Control late relapse</text>
<text x="439.3" y="570.6" font-size="8.8" textLength="72.6" lengthAdjust="spacingAndGlyphs">DARA early relapse</text>
<text x="429.3" y="602.9" font-size="8.8" textLength="77.3" lengthAdjust="spacingAndGlyphs">Control early relapse</text>
<text x="85.3" y="700" font-size="8.55" text-anchor="end">No. at risk</text>
<text x="85.3" y="713" font-size="8.55" text-anchor="end">Control late relapse</text>
<text x="100.4" y="713" font-size="8.8" text-anchor="middle">144</text>
<text x="123.54" y="713" font-size="8.8" text-anchor="middle">135</text>
<text x="146.67" y="713" font-size="8.8" text-anchor="middle">126</text>
<text x="169.81" y="713" font-size="8.8" text-anchor="middle">119</text>
<text x="192.94" y="713" font-size="8.8" text-anchor="middle">115</text>
<text x="216.08" y="713" font-size="8.8" text-anchor="middle">110</text>
<text x="239.22" y="713" font-size="8.8" text-anchor="middle">103</text>
<text x="262.35" y="713" font-size="8.8" text-anchor="middle">94</text>
<text x="285.49" y="713" font-size="8.8" text-anchor="middle">88</text>
<text x="308.62" y="713" font-size="8.8" text-anchor="middle">78</text>
<text x="331.76" y="713" font-size="8.8" text-anchor="middle">73</text>
<text x="354.9" y="713" font-size="8.8" text-anchor="middle">70</text>
<text x="378.03" y="713" font-size="8.8" text-anchor="middle">49</text>
<text x="401.17" y="713" font-size="8.8" text-anchor="middle">33</text>
<text x="424.3" y="713" font-size="8.8" text-anchor="middle">3</text>
<text x="447.44" y="713" font-size="8.8" text-anchor="middle">0</text>
<text x="85.3" y="726" font-size="8.55" text-anchor="end">DARA late relapse</text>
<text x="100.4" y="726" font-size="8.8" text-anchor="middle">146</text>
<text x="123.54" y="726" font-size="8.8" text-anchor="middle">142</text>
<text x="146.67" y="726" font-size="8.8" text-anchor="middle">139</text>
<text x="169.81" y="726" font-size="8.8" text-anchor="middle">135</text>
<text x="192.94" y="726" font-size="8.8" text-anchor="middle">124</text>
<text x="216.08" y="726" font-size="8.8" text-anchor="middle">120</text>
<text x="239.22" y="726" font-size="8.8" text-anchor="middle">114</text>
<text x="262.35" y="726" font-size="8.8" text-anchor="middle">108</text>
<text x="285.49" y="726" font-size="8.8" text-anchor="middle">102</text>
<text x="308.62" y="726" font-size="8.8" text-anchor="middle">95</text>
<text x="331.76" y="726" font-size="8.8" text-anchor="middle">89</text>
<text x="354.9" y="726" font-size="8.8" text-anchor="middle">87</text>
<text x="378.03" y="726" font-size="8.8" text-anchor="middle">68</text>
<text x="401.17" y="726" font-size="8.8" text-anchor="middle">37</text>
<text x="424.3" y="726" font-size="8.8" text-anchor="middle">1</text>
<text x="447.44" y="726" font-size="8.8" text-anchor="middle">0</text>
<text x="85.3" y="739" font-size="8.55" text-anchor="end">Control early relapse</text>
<text x="100.4" y="739" font-size="8.8" text-anchor="middle">115</text>
<text x="123.54" y="739" font-size="8.8" text-anchor="middle">99</text>
<text x="146.67" y="739" font-size="8.8" text-anchor="middle">92</text>
<text x="169.81" y="739" font-size="8.8" text-anchor="middle">79</text>
<text x="192.94" y="739" font-size="8.8" text-anchor="middle">68</text>
<text x="216.08" y="739" font-size="8.8" text-anchor="middle">65</text>
<text x="239.22" y="739" font-size="8.8" text-anchor="middle">59</text>
<text x="262.35" y="739" font-size="8.8" text-anchor="middle">48</text>
<text x="285.49" y="739" font-size="8.8" text-anchor="middle">46</text>
<text x="308.62" y="739" font-size="8.8" text-anchor="middle">38</text>
<text x="331.76" y="739" font-size="8.8" text-anchor="middle">35</text>
<text x="354.9" y="739" font-size="8.8" text-anchor="middle">32</text>
<text x="378.03" y="739" font-size="8.8" text-anchor="middle">26</text>
<text x="401.17" y="739" font-size="8.8" text-anchor="middle">12</text>
<text x="424.3" y="739" font-size="8.8" text-anchor="middle">0</text>
<text x="447.44" y="739" font-size="8.8" text-anchor="middle">0</text>
<text x="85.3" y="752" font-size="8.55" text-anchor="end">DARA early relapse</text>
<text x="100.4" y="752" font-size="8.8" text-anchor="middle">125</text>
<text x="123.54" y="752" font-size="8.8" text-anchor="middle">114</text>
<text x="146.67" y="752" font-size="8.8" text-anchor="middle">108</text>
<text x="169.81" y="752" font-size="8.8" text-anchor="middle">99</text>
<text x="192.94" y="752" font-size="8.8" text-anchor="middle">95</text>
<text x="216.08" y="752" font-size="8.8" text-anchor="middle">84</text>
<text x="239.22" y="752" font-size="8.8" text-anchor="middle">77</text>
<text x="262.35" y="752" font-size="8.8" text-anchor="middle">72</text>
<text x="285.49" y="752" font-size="8.8" text-anchor="middle">67</text>
<text x="308.62" y="752" font-size="8.8" text-anchor="middle">62</text>
<text x="331.76" y="752" font-size="8.8" text-anchor="middle">60</text>
<text x="354.9" y="752" font-size="8.8" text-anchor="middle">56</text>
<text x="378.03" y="752" font-size="8.8" text-anchor="middle">43</text>
<text x="401.17" y="752" font-size="8.8" text-anchor="middle">29</text>
<text x="424.3" y="752" font-size="8.8" text-anchor="middle">3</text>
<text x="447.44" y="752" font-size="8.8" text-anchor="middle">0</text>
</svg></div>
</body></html>
